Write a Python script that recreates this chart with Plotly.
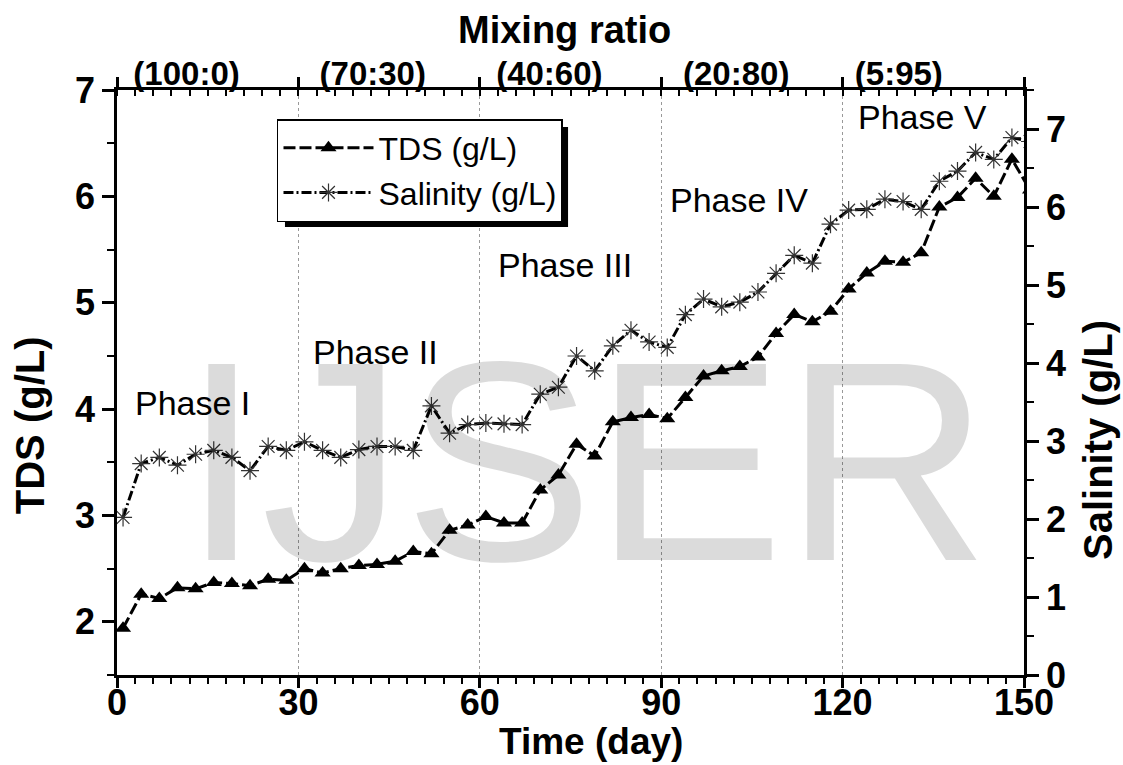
import plotly.graph_objects as go

# ---------------- data ----------------
days = [1, 4, 7, 10, 13, 16, 19, 22, 25, 28, 31, 34, 37, 40, 43, 46, 49, 52, 55, 58,
        61, 64, 67, 70, 73, 76, 79, 82, 85, 88, 91, 94, 97, 100, 103, 106, 109, 112, 115, 118,
        121, 124, 127, 130, 133, 136, 139, 142, 145, 148, 151]

tds = [1.94, 2.26, 2.22, 2.32, 2.31, 2.37, 2.36, 2.34, 2.40, 2.39,
       2.50, 2.46, 2.50, 2.53, 2.54, 2.57, 2.66, 2.64, 2.86, 2.91,
       2.99, 2.93, 2.93, 3.24, 3.38, 3.67, 3.56, 3.88, 3.92, 3.95,
       3.91, 4.11, 4.31, 4.36, 4.40, 4.49, 4.71, 4.89, 4.82, 4.92,
       5.13, 5.28, 5.39, 5.38, 5.47, 5.90, 5.99, 6.17, 6.00, 6.35, 6.06]

salinity = [2.02, 2.71, 2.79, 2.69, 2.83, 2.88, 2.79, 2.62, 2.93, 2.88,
            2.99, 2.88, 2.79, 2.89, 2.93, 2.93, 2.88, 3.45, 3.10, 3.21,
            3.23, 3.22, 3.21, 3.60, 3.69, 4.09, 3.90, 4.22, 4.42, 4.27,
            4.20, 4.62, 4.82, 4.72, 4.78, 4.91, 5.15, 5.38, 5.28, 5.78,
            5.96, 5.97, 6.10, 6.07, 5.97, 6.33, 6.46, 6.70, 6.61, 6.89, 6.84]

mix_labels = ["(100:0)", "(70:30)", "(40:60)", "(20:80)", "(5:95)"]
mix_label_pos = [11.5, 42.3, 71.5, 102.4, 129.3]

phase_labels = ["Phase I", "Phase II", "Phase III", "Phase IV", "Phase V"]
phase_x = [2.7, 32.1, 62.6, 91.2, 122.2]
phase_y = [4.055, 4.535, 5.355, 5.965, 6.745]

FONT = "Liberation Sans, Arial, sans-serif"
TICKF = dict(family=FONT, size=36, color="black", weight="bold")

fig = go.Figure()

fig.add_trace(go.Scatter(
    x=days, y=tds, name="TDS (g/L)", mode="lines+markers",
    line=dict(color="black", width=3, dash="12px,4px"),
    marker=dict(symbol="triangle-up", size=14, color="black"),
    xaxis="x", yaxis="y"))

fig.add_trace(go.Scatter(
    x=days, y=salinity, name="Salinity (g/L)", mode="lines+markers",
    line=dict(color="black", width=3, dash="10px,3px,2px,3px"),
    marker=dict(symbol="asterisk-open", size=15, color="#333333",
                line=dict(width=1.2, color="#333333")),
    xaxis="x", yaxis="y2"))

# invisible helpers so the top axes get drawn
for ax in ["x2", "x3"]:
    fig.add_trace(go.Scatter(x=days, y=tds, mode="markers", marker=dict(opacity=0),
                             hoverinfo="skip", showlegend=False, xaxis=ax, yaxis="y"))

axis_line = dict(showline=True, linecolor="black", linewidth=2.5, zeroline=False)

fig.update_layout(
    width=1123, height=765,
    margin=dict(l=117, r=99, t=90, b=90),
    paper_bgcolor="white", plot_bgcolor="white",
    font=dict(family=FONT, color="black"),
    xaxis=dict(range=[0, 150], tick0=0, dtick=30, ticks="outside", ticklen=10, tickwidth=2.5,
               tickcolor="black",
               minor=dict(tick0=0, dtick=3, ticks="outside", ticklen=6, tickwidth=1.5,
                          tickcolor="black", showgrid=False),
               showgrid=True, gridcolor="#999999", griddash="dot", gridwidth=1,
               tickfont=TICKF, ticklabelstandoff=-16, **axis_line),
    xaxis2=dict(overlaying="x", side="top", anchor="y", range=[0, 150], tick0=0, dtick=30,
                ticks="outside", ticklen=10, tickwidth=2.5, tickcolor="black",
                showticklabels=False,
                minor=dict(tick0=0, dtick=3, ticks="inside", ticklen=6, tickwidth=1.5,
                           tickcolor="black", showgrid=False),
                showgrid=False, **axis_line),
    xaxis3=dict(overlaying="x", side="top", anchor="y", range=[0, 150],
                tickmode="array", tickvals=mix_label_pos, ticktext=mix_labels,
                ticks="", showline=False, showgrid=False, zeroline=False,
                tickfont=dict(family=FONT, size=33, color="black", weight="bold"),
                ticklabelstandoff=-3),
    yaxis=dict(range=[1.5, 7], tick0=0, dtick=1, ticks="outside", ticklen=12, tickwidth=2.5,
               tickcolor="black",
               minor=dict(tick0=0, dtick=0.5, ticks="outside", ticklen=7, tickwidth=2,
                          tickcolor="black", showgrid=False),
               showgrid=False, tickfont=TICKF, **axis_line),
    yaxis2=dict(overlaying="y", side="right", range=[0, 7.5], tick0=0, dtick=1,
                ticks="outside", ticklen=12, tickwidth=2.5, tickcolor="black",
                minor=dict(tick0=0, dtick=0.5, ticks="outside", ticklen=7, tickwidth=2,
                           tickcolor="black", showgrid=False),
                showgrid=False, tickfont=TICKF, **axis_line),
    legend=dict(x=0.1764, y=0.9504, xanchor="left", yanchor="top",
                bgcolor="white", bordercolor="black", borderwidth=1.5,
                font=dict(family=FONT, size=32, color="black"),
                itemwidth=90, tracegroupgap=0),
    showlegend=True,
)

# legend drop shadow
fig.add_shape(type="rect", xref="paper", yref="paper",
              x0=0.1852, x1=0.4973, y0=0.7658, y1=0.9368,
              fillcolor="black", line=dict(width=0), layer="above")

# axis titles placed as in the reference
fig.add_annotation(text="Mixing ratio", xref="paper", yref="paper", x=0.493, y=1.1026,
                   xanchor="center", yanchor="middle", showarrow=False,
                   font=dict(family=FONT, size=38, color="black", weight="bold"))
fig.add_annotation(text="Time (day)", xref="paper", yref="paper", x=0.5226, y=-0.1145,
                   xanchor="center", yanchor="middle", showarrow=False,
                   font=dict(family=FONT, size=37, color="black", weight="bold"))
fig.add_annotation(text="TDS (g/L)", xref="paper", yref="paper", x=-0.0959, y=0.427,
                   xanchor="center", yanchor="middle", showarrow=False, textangle=-90,
                   font=dict(family=FONT, size=40, color="black", weight="bold"))
fig.add_annotation(text="Salinity (g/L)", xref="paper", yref="paper", x=1.0816, y=0.4017,
                   xanchor="center", yanchor="middle", showarrow=False, textangle=-90,
                   font=dict(family=FONT, size=40, color="black", weight="bold"))

# watermark
fig.add_annotation(text="IJSER", xref="paper", yref="paper", x=0.517, y=0.3666,
                   xanchor="center", yanchor="middle", showarrow=False,
                   font=dict(family=FONT, size=285, color="rgba(0,0,0,0.14)"))

# phase labels
for lab, px, py in zip(phase_labels, phase_x, phase_y):
    fig.add_annotation(text=lab, x=px, y=py, xref="x", yref="y", xanchor="left",
                       yanchor="middle", showarrow=False,
                       font=dict(family=FONT, size=34, color="black"))

fig.write_html("out.html")
